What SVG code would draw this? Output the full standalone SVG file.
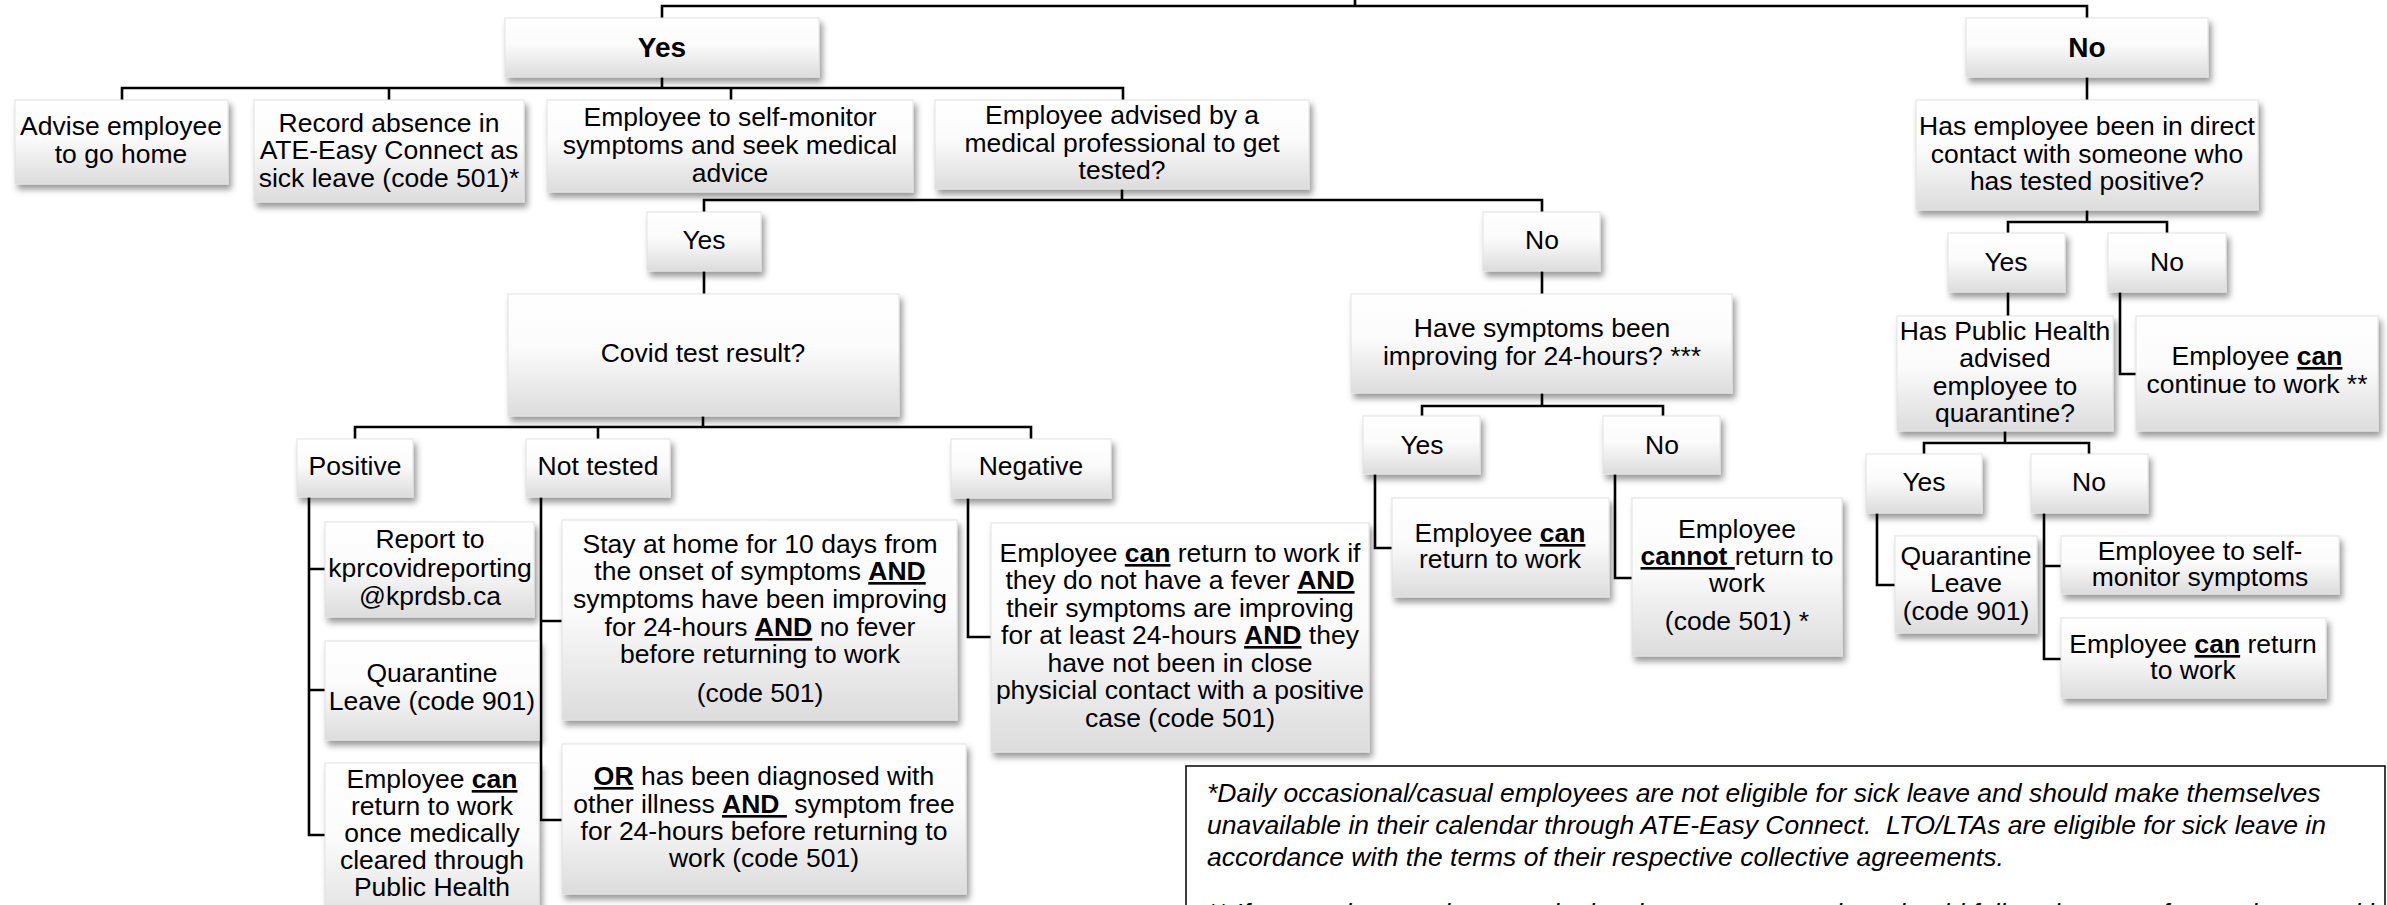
<svg xmlns="http://www.w3.org/2000/svg" width="2387" height="905" viewBox="0 0 2387 905">
<style>
.t{font-family:"Liberation Sans",Arial,sans-serif;font-size:26.5px;fill:#000;text-anchor:middle}
.u{font-weight:bold;text-decoration:underline}
.h{font-weight:bold;font-size:28px}
.box{fill:url(#g);filter:url(#sh);stroke:#e2e2e2;stroke-width:1}
.c{fill:none;stroke:#000;stroke-width:2.6}
.fn{font-style:italic;text-anchor:start}
</style>
<defs>
<linearGradient id="g" x1="0" y1="0" x2="0" y2="1">
<stop offset="0" stop-color="#ffffff"/>
<stop offset="0.45" stop-color="#fbfbfb"/>
<stop offset="1" stop-color="#dcdcdc"/>
</linearGradient>
<filter id="sh" x="-10%" y="-10%" width="125%" height="135%">
<feDropShadow dx="3" dy="5" stdDeviation="3" flood-color="#000" flood-opacity="0.4"/>
</filter>
</defs>
<rect width="2387" height="905" fill="#fff"/>
<g id="connectors">
<path class="c" d="M1355,0 V6 M662,18 V6 H2087 V18"/>
<path class="c" d="M662,77 V88 M122,100 V88 H1123 V100 M389,88 V100 M731,88 V100"/>
<path class="c" d="M1122,189 V200 M704,212 V200 H1542 V212"/>
<path class="c" d="M704,271 V294"/>
<path class="c" d="M703,416 V427 M355,439 V427 H1031 V439 M598,427 V439"/>
<path class="c" d="M309,497 V835 H325 M309,569 H325 M309,690 H325"/>
<path class="c" d="M541,497 V820 H562 M541,621 H562"/>
<path class="c" d="M968,498 V637 H991"/>
<path class="c" d="M1542,271 V294"/>
<path class="c" d="M1542,393 V406 M1422,416 V406 H1663 V416"/>
<path class="c" d="M1375,474 V548 H1392"/>
<path class="c" d="M1615,474 V578 H1632"/>
<path class="c" d="M2087,77 V100"/>
<path class="c" d="M2087,210 V222 M2008,233 V222 H2167 V233"/>
<path class="c" d="M2008,292 V316"/>
<path class="c" d="M2120,292 V374 H2136"/>
<path class="c" d="M2005,431 V443 M1924,454 V443 H2089 V454"/>
<path class="c" d="M1877,513 V585 H1895"/>
<path class="c" d="M2044,513 V659 H2061 M2044,566 H2061"/>
</g>
<g id="n-yes-top"><rect class="box" x="505" y="18" width="314" height="59"/><text class="t h" x="662" y="57">Yes</text></g>
<g id="n-no-top"><rect class="box" x="1966" y="18" width="242" height="59"/><text class="t h" x="2087" y="57">No</text></g>
<g id="n-advise"><rect class="box" x="15" y="100" width="213" height="84"/><text class="t"><tspan x="121" y="135">Advise employee</tspan><tspan x="121" y="163">to go home</tspan></text></g>
<g id="n-record"><rect class="box" x="254" y="100" width="270" height="102"/><text class="t"><tspan x="389" y="132">Record absence in</tspan><tspan x="389" y="159">ATE-Easy Connect as</tspan><tspan x="389" y="187">sick leave (code 501)*</tspan></text></g>
<g id="n-selfmon"><rect class="box" x="547" y="100" width="366" height="92"/><text class="t"><tspan x="730" y="126">Employee to self-monitor</tspan><tspan x="730" y="154">symptoms and seek medical</tspan><tspan x="730" y="182">advice</tspan></text></g>
<g id="n-advised"><rect class="box" x="935" y="100" width="374" height="89"/><text class="t"><tspan x="1122" y="124">Employee advised by a</tspan><tspan x="1122" y="152">medical professional to get</tspan><tspan x="1122" y="179">tested?</tspan></text></g>
<g id="n-yes2"><rect class="box" x="647" y="212" width="114" height="59"/><text class="t" x="704" y="249">Yes</text></g>
<g id="n-no2"><rect class="box" x="1483" y="212" width="117" height="59"/><text class="t" x="1542" y="249">No</text></g>
<g id="n-covid"><rect class="box" x="508" y="294" width="391" height="122"/><text class="t" x="703" y="362">Covid test result?</text></g>
<g id="n-have"><rect class="box" x="1351" y="294" width="381" height="99"/><text class="t"><tspan x="1542" y="337">Have symptoms been</tspan><tspan x="1542" y="365">improving for 24-hours? ***</tspan></text></g>
<g id="n-yes-mid"><rect class="box" x="1363" y="416" width="117" height="58"/><text class="t" x="1422" y="454">Yes</text></g>
<g id="n-no-mid"><rect class="box" x="1603" y="416" width="117" height="58"/><text class="t" x="1662" y="454">No</text></g>
<g id="n-contact"><rect class="box" x="1916" y="100" width="342" height="110"/><text class="t"><tspan x="2087" y="135">Has employee been in direct</tspan><tspan x="2087" y="163">contact with someone who</tspan><tspan x="2087" y="190">has tested positive?</tspan></text></g>
<g id="n-yes-r"><rect class="box" x="1948" y="233" width="117" height="59"/><text class="t" x="2006" y="271">Yes</text></g>
<g id="n-no-r"><rect class="box" x="2108" y="233" width="118" height="59"/><text class="t" x="2167" y="271">No</text></g>
<g id="n-continue"><rect class="box" x="2136" y="316" width="242" height="115"/><text class="t"><tspan x="2257" y="365">Employee <tspan class="u">can</tspan></tspan><tspan x="2257" y="393">continue to work **</tspan></text></g>
<g id="n-ph"><rect class="box" x="1897" y="316" width="216" height="115"/><text class="t"><tspan x="2005" y="340">Has Public Health</tspan><tspan x="2005" y="367">advised</tspan><tspan x="2005" y="395">employee to</tspan><tspan x="2005" y="422">quarantine?</tspan></text></g>
<g id="n-yes-ph"><rect class="box" x="1866" y="454" width="116" height="59"/><text class="t" x="1924" y="491">Yes</text></g>
<g id="n-no-ph"><rect class="box" x="2031" y="454" width="117" height="59"/><text class="t" x="2089" y="491">No</text></g>
<g id="n-quar-r"><rect class="box" x="1895" y="536" width="142" height="97"/><text class="t"><tspan x="1966" y="565">Quarantine</tspan><tspan x="1966" y="592">Leave</tspan><tspan x="1966" y="620">(code 901)</tspan></text></g>
<g id="n-selfmon-r"><rect class="box" x="2061" y="536" width="278" height="58"/><text class="t"><tspan x="2200" y="560">Employee to self-</tspan><tspan x="2200" y="586">monitor symptoms</tspan></text></g>
<g id="n-return-r"><rect class="box" x="2061" y="618" width="265" height="80"/><text class="t"><tspan x="2193" y="653">Employee <tspan class="u">can</tspan> return</tspan><tspan x="2193" y="679">to work</tspan></text></g>
<g id="n-positive"><rect class="box" x="297" y="439" width="116" height="58"/><text class="t" x="355" y="475">Positive</text></g>
<g id="n-nottested"><rect class="box" x="526" y="439" width="144" height="58"/><text class="t" x="598" y="475">Not tested</text></g>
<g id="n-negative"><rect class="box" x="951" y="439" width="160" height="59"/><text class="t" x="1031" y="475">Negative</text></g>
<g id="n-report"><rect class="box" x="325" y="522" width="209" height="95"/><text class="t"><tspan x="430" y="548">Report to</tspan><tspan x="430" y="577">kprcovidreporting</tspan><tspan x="430" y="605">@kprdsb.ca</tspan></text></g>
<g id="n-quar-l"><rect class="box" x="325" y="641" width="214" height="99"/><text class="t"><tspan x="432" y="682">Quarantine</tspan><tspan x="432" y="710">Leave (code 901)</tspan></text></g>
<g id="n-cleared"><rect class="box" x="325" y="763" width="214" height="170"/><text class="t"><tspan x="432" y="788">Employee <tspan class="u">can</tspan></tspan><tspan x="432" y="815">return to work</tspan><tspan x="432" y="842">once medically</tspan><tspan x="432" y="869">cleared through</tspan><tspan x="432" y="896">Public Health</tspan></text></g>
<g id="n-stay"><rect class="box" x="562" y="520" width="395" height="200"/><text class="t"><tspan x="760" y="553">Stay at home for 10 days from</tspan><tspan x="760" y="580">the onset of symptoms <tspan class="u">AND</tspan></tspan><tspan x="760" y="608">symptoms have been improving</tspan><tspan x="760" y="636">for 24-hours <tspan class="u">AND</tspan> no fever</tspan><tspan x="760" y="663">before returning to work</tspan><tspan x="760" y="702">(code 501)</tspan></text></g>
<g id="n-or"><rect class="box" x="562" y="744" width="404" height="150"/><text class="t"><tspan x="764" y="785"><tspan class="u">OR</tspan> has been diagnosed with</tspan><tspan x="764" y="813">other illness <tspan class="u">AND&#160;</tspan> symptom free</tspan><tspan x="764" y="840">for 24-hours before returning to</tspan><tspan x="764" y="867">work (code 501)</tspan></text></g>
<g id="n-neg-content"><rect class="box" x="991" y="523" width="378" height="229"/><text class="t"><tspan x="1180" y="562">Employee <tspan class="u">can</tspan> return to work if</tspan><tspan x="1180" y="589">they do not have a fever <tspan class="u">AND</tspan></tspan><tspan x="1180" y="617">their symptoms are improving</tspan><tspan x="1180" y="644">for at least 24-hours <tspan class="u">AND</tspan> they</tspan><tspan x="1180" y="672">have not been in close</tspan><tspan x="1180" y="699">physicial contact with a positive</tspan><tspan x="1180" y="727">case (code 501)</tspan></text></g>
<g id="n-can-mid"><rect class="box" x="1392" y="498" width="217" height="99"/><text class="t"><tspan x="1500" y="542">Employee <tspan class="u">can</tspan></tspan><tspan x="1500" y="568">return to work</tspan></text></g>
<g id="n-cannot"><rect class="box" x="1632" y="498" width="210" height="158"/><text class="t"><tspan x="1737" y="538">Employee</tspan><tspan x="1737" y="565"><tspan class="u">cannot </tspan>return to</tspan><tspan x="1737" y="592">work</tspan><tspan x="1737" y="630">(code 501) *</tspan></text></g>
<g id="n-footnote"><rect x="1186" y="766" width="1199" height="170" fill="#fff" stroke="#000" stroke-width="1.5"/><text class="t fn"><tspan x="1207" y="802">*Daily occasional/casual employees are not eligible for sick leave and should make themselves</tspan><tspan x="1207" y="834">unavailable in their calendar through ATE-Easy Connect. &#160;LTO/LTAs are eligible for sick leave in</tspan><tspan x="1207" y="866">accordance with the terms of their respective collective agreements.</tspan><tspan x="1207" y="922">** If an employee subsequently develops symptoms, they should follow the steps for employees with symptoms.</tspan></text></g>
</svg>
